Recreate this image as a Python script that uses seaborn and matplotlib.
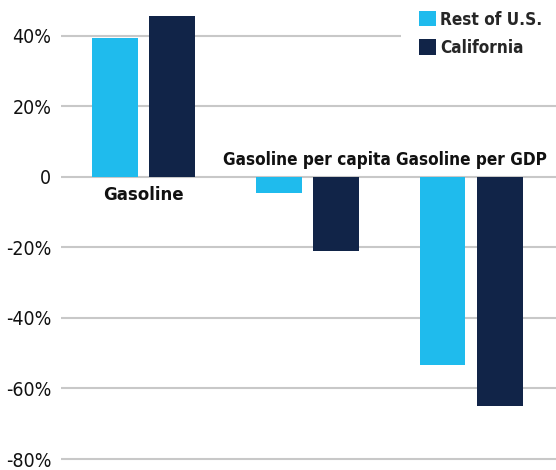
import numpy as np
import pandas as pd
import matplotlib as mpl
import matplotlib.pyplot as plt
import seaborn as sns
from matplotlib import font_manager

categories = ["Gasoline", "Gasoline per capita", "Gasoline per GDP"]
regions = ["Rest of U.S.", "California"]
rest_of_us = [39.3, -4.5, -53.3]
california = [45.6, -21.0, -64.9]
tick_values = [40, 20, 0, -20, -40, -60, -80]
tick_labels = ["40%", "20%", "0", "-20%", "-40%", "-60%", "-80%"]
colors = ["#1fbbed", "#112448"]

df = pd.DataFrame({
    "category": categories * 2,
    "region": [regions[0]] * 3 + [regions[1]] * 3,
    "value": rest_of_us + california,
})

sns.set_style("white")

# look for a condensed face, else fall back to Roboto
cond = font_manager.findfont(font_manager.FontProperties(
    family="DejaVu Sans", stretch="condensed", weight="bold"), fallback_to_default=False)
if "condensed" in cond.lower():
    fam, stretch = ["DejaVu Sans", "DejaVu Sans"], "condensed"
else:
    fam, stretch = ["Roboto", "DejaVu Sans"], "normal"
lab_size = 12.3
plt.rcParams["font.family"] = fam

fig = plt.figure(figsize=(5.56, 4.70), dpi=100)
ax = fig.add_axes([61 / 556, 0, 1 - 61 / 556, 1])

sns.barplot(data=df, x="category", y="value", hue="region", palette=colors,
            width=0.7, gap=0.2, saturation=1, linewidth=0, ax=ax, legend=True)

ax.set_xlim(-0.502, 2.517)
ax.set_ylim(-83.1, 50.06)
ax.set_yticks(tick_values)
ax.set_yticklabels(tick_labels, fontsize=14, color="#111111", stretch=stretch)
ax.tick_params(axis="y", length=0, pad=7)
ax.set_xticks([])
ax.set_xlabel("")
ax.set_ylabel("")
for s in ax.spines.values():
    s.set_visible(False)
ax.yaxis.grid(True, color="#c8c8c8", linewidth=1.5)
ax.set_axisbelow(True)

# category labels sit on the opposite side of zero from the bars
for i, cat in enumerate(categories):
    below = rest_of_us[i] > 0
    ax.annotate(cat, xy=(i, 0), xytext=(0, -13.5 if below else 12),
                textcoords="offset points", ha="center", va="center",
                fontsize=lab_size + 1 if below else lab_size, fontweight="bold",
                fontstretch=stretch, color="#111111")

handles, labels = ax.get_legend_handles_labels()
fs_px = lab_size * 100 / 72
ax.legend(handles, labels, loc="upper left",
          bbox_to_anchor=(392 / 556, 1 + 16 / 470), bbox_transform=fig.transFigure,
          frameon=True, facecolor="white", edgecolor="none", framealpha=1,
          fancybox=False, borderpad=18 / fs_px, handlelength=17 / fs_px,
          handleheight=17 / fs_px, handletextpad=0.25, labelspacing=0.6,
          prop={"size": lab_size, "weight": "bold", "family": fam, "stretch": stretch})

fig.savefig("out.png", dpi=100)
